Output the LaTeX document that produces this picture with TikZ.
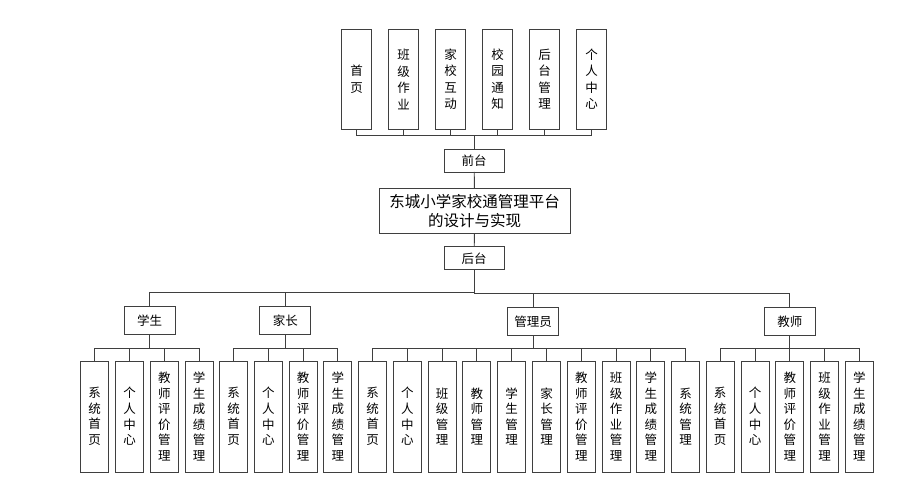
\documentclass[tikz,border=0pt]{standalone}
\usepackage{fontspec}
\setmainfont{Noto Sans CJK SC}
\usetikzlibrary{positioning}
\definecolor{linegray}{HTML}{3F3F3F}
\tikzset{
  box/.style={draw=linegray, line width=0.9pt, fill=white, inner sep=0pt, outer sep=0pt, align=center},
  topbox/.style={box, minimum width=30pt, minimum height=100pt, font=\fontsize{12.5}{16.5}\selectfont},
  leafbox/.style={box, minimum width=28pt, minimum height=111pt, font=\fontsize{12.5}{15.6}\selectfont},
  tagbox/.style={box, minimum width=60pt, minimum height=23pt, font=\fontsize{12.5}{14}\selectfont},
  rolebox/.style={box, minimum width=51pt, minimum height=28pt, font=\fontsize{12.5}{14}\selectfont},
  titlebox/.style={box, minimum width=191pt, minimum height=45pt, font=\fontsize{15.5}{19.3}\selectfont},
}

\begin{document}
\begin{tikzpicture}[
  x=1pt, y=-1pt,
  line width=0.9pt, draw=linegray,
]
\useasboundingbox (0,0) rectangle (919,494);

% front end
\node[topbox] (sy) at (356.7,79.2) {首\\页};
\node[topbox, right=17pt of sy] (bjzy) {班\\级\\作\\业};
\node[topbox, right=17pt of bjzy] (jxhd) {家\\校\\互\\动};
\node[topbox, right=17pt of jxhd] (xytz) {校\\园\\通\\知};
\node[topbox, right=17pt of xytz] (htgl) {后\\台\\管\\理};
\node[topbox, right=17pt of htgl] (grzx) {个\\人\\中\\心};

\node[tagbox] (qt) at (474.2,160.5) {前台};
\node[titlebox] (title) at (474.5,210.8) {东城小学家校通管理平台\\的设计与实现};
\node[tagbox] (ht) at (474.2,258.4) {后台};

% back end roles
\node[rolebox] (xs) at (149.7,320.5) {学生};
\node[rolebox] (jz) at (285.3,320.5) {家长};
\node[rolebox] (gly) at (533.2,321.7) {管理员};
\node[rolebox] (js) at (789.8,321.7) {教师};

% student
\node[leafbox] (xs1) at (94.7,416.5) {系\\统\\首\\页};
\node[leafbox, right=6.8pt of xs1] (xs2) {个\\人\\中\\心};
\node[leafbox, right=6.8pt of xs2] (xs3) {教\\师\\评\\价\\管\\理};
\node[leafbox, right=6.8pt of xs3] (xs4) {学\\生\\成\\绩\\管\\理};

% parent
\node[leafbox] (jz1) at (233.5,416.5) {系\\统\\首\\页};
\node[leafbox, right=6.8pt of jz1] (jz2) {个\\人\\中\\心};
\node[leafbox, right=6.8pt of jz2] (jz3) {教\\师\\评\\价\\管\\理};
\node[leafbox, right=6.8pt of jz3] (jz4) {学\\生\\成\\绩\\管\\理};

% admin
\node[leafbox] (gly1) at (372.5,416.5) {系\\统\\首\\页};
\node[leafbox, right=6.8pt of gly1] (gly2) {个\\人\\中\\心};
\node[leafbox, right=6.8pt of gly2] (gly3) {班\\级\\管\\理};
\node[leafbox, right=6.8pt of gly3] (gly4) {教\\师\\管\\理};
\node[leafbox, right=6.8pt of gly4] (gly5) {学\\生\\管\\理};
\node[leafbox, right=6.8pt of gly5] (gly6) {家\\长\\管\\理};
\node[leafbox, right=6.8pt of gly6] (gly7) {教\\师\\评\\价\\管\\理};
\node[leafbox, right=6.8pt of gly7] (gly8) {班\\级\\作\\业\\管\\理};
\node[leafbox, right=6.8pt of gly8] (gly9) {学\\生\\成\\绩\\管\\理};
\node[leafbox, right=6.8pt of gly9] (gly10) {系\\统\\管\\理};

% teacher
\node[leafbox] (js1) at (720.2,416.5) {系\\统\\首\\页};
\node[leafbox, right=6.8pt of js1] (js2) {个\\人\\中\\心};
\node[leafbox, right=6.8pt of js2] (js3) {教\\师\\评\\价\\管\\理};
\node[leafbox, right=6.8pt of js3] (js4) {班\\级\\作\\业\\管\\理};
\node[leafbox, right=6.8pt of js4] (js5) {学\\生\\成\\绩\\管\\理};

% connectors
\foreach \c in {sy,bjzy,jxhd,xytz,htgl,grzx}
  \draw (\c.south) -- ++(0,6.7) -| (qt.north);
\draw (qt) -- (title);
\draw (title) -- (ht);
\foreach \c in {xs,jz,gly,js}
  \draw (\c.north) -- ++(0,-14) -| (ht.south);
\foreach \c in {xs1,xs2,xs3,xs4}
  \draw (\c.north) -- ++(0,-12.7) -| (xs.south);
\foreach \c in {jz1,jz2,jz3,jz4}
  \draw (\c.north) -- ++(0,-12.7) -| (jz.south);
\foreach \c in {gly1,gly2,gly3,gly4,gly5,gly6,gly7,gly8,gly9,gly10}
  \draw (\c.north) -- ++(0,-12.7) -| (gly.south);
\foreach \c in {js1,js2,js3,js4,js5}
  \draw (\c.north) -- ++(0,-12.7) -| (js.south);

\end{tikzpicture}
\end{document}
